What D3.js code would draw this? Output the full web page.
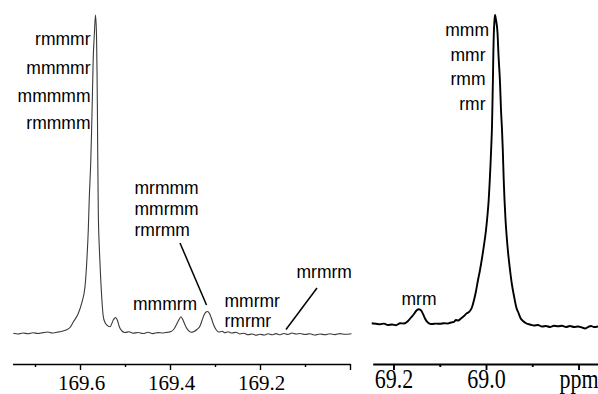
<!DOCTYPE html>
<html>
<head>
<meta charset="utf-8">
<script src="https://cdn.jsdelivr.net/npm/d3@7"></script>
<style>
  html, body { margin: 0; padding: 0; background: #fff; }
  svg { display: block; }
</style>
</head>
<body>
<svg id="chart" width="598" height="394"></svg>
<script>
// ---------- DATA ----------
// Left panel: carbonyl region, chemical shift (ppm) and relative intensity
const leftPpm = [169.7482,169.7378,169.7267,169.7156,169.7044,169.6933,169.6822,169.6711,169.6622,169.6511,
  169.6400,169.6311,169.6222,169.6149,169.6044,169.5962,169.5889,169.5851,169.5816,169.5793,
  169.5762,169.5742,169.5724,169.5707,169.5682,169.5656,169.5633,169.5622,169.5613,169.5607,
  169.5593,169.5573,169.5556,169.5518,169.5482,169.5444,169.5407,169.5333,169.5260,169.5211,
  169.5167,169.5127,169.5067,169.5000,169.4911,169.4822,169.4711,169.4600,169.4489,169.4378,
  169.4267,169.4156,169.4067,169.3978,169.3911,169.3856,169.3811,169.3756,169.3711,169.3656,
  169.3593,169.3533,169.3467,169.3400,169.3333,169.3289,169.3244,169.3200,169.3167,169.3122,
  169.3078,169.3033,169.2978,169.2911,169.2844,169.2778,169.2711,169.2622,169.2533,169.2444,
  169.2356,169.2267,169.2178,169.2089,169.2000,169.1911,169.1822,169.1733,169.1644,169.1556,
  169.1467,169.1378,169.1289,169.1200,169.1111,169.1000,169.0889,169.0778,169.0667,169.0556,
  169.0444,169.0333,169.0222,169.0111,168.9967];
const leftIntensity = [-0.09,-0.31,0,-0.25,0.06,-0.16,0.13,0.31,0,0.25,
  0.57,0.94,1.73,3.46,5.97,9.43,14.56,22.01,32.39,42.77,
  53.46,63.84,74.84,85.85,93.71,100,93.71,82.70,70.13,57.55,
  37.74,27.67,22.01,11.42,5.13,3.30,2.52,1.98,4.09,4.87,
  3.93,1.98,0.63,0.16,0.38,-0.09,0.16,-0.16,0.22,-0.19,
  0.13,0,0.19,0.47,1.26,2.67,3.93,5.13,4.09,2.20,
  0.79,0.22,0.47,1.10,2.20,3.93,5.66,6.60,6.76,6.13,
  4.56,2.67,1.10,0.31,0.53,0.06,0.38,0,0.22,-0.31,
  -0.06,-0.57,-0.31,-0.69,-0.38,-0.63,-0.25,-0.57,-0.19,-0.53,
  -0.16,-0.47,0,-0.31,-0.16,-0.47,-0.25,-0.63,-0.31,-0.57,
  -0.25,-0.50,-0.19,-0.41,-0.25];

// Right panel: methine region
const rightPpm = [69.2471,69.2378,69.2292,69.2205,69.2119,69.2032,69.1946,69.1859,69.1773,69.1686,
  69.1622,69.1557,69.1503,69.1449,69.1405,69.1362,69.1319,69.1276,69.1222,69.1168,
  69.1081,69.0995,69.0908,69.0822,69.0757,69.0692,69.0649,69.0605,69.0541,69.0476,
  69.0417,69.0368,69.0309,69.0259,69.0216,69.0173,69.0130,69.0086,69.0043,69.0000,
  68.9968,68.9942,68.9924,68.9903,68.9885,68.9870,68.9859,68.9849,68.9840,68.9831,
  68.9816,68.9805,68.9784,68.9751,68.9730,68.9697,68.9676,68.9654,68.9637,68.9617,
  68.9600,68.9578,68.9552,68.9524,68.9481,68.9438,68.9395,68.9341,68.9297,68.9254,
  68.9200,68.9124,68.9049,68.8962,68.8876,68.8789,68.8703,68.8616,68.8530,68.8443,
  68.8357,68.8270,68.8184,68.8097,68.8011,68.7924,68.7859,68.7795,68.7730,68.7665,
  68.7578];
const rightIntensity = [0.55,0.39,0.23,0.45,0,0.16,-0.06,0.55,0.48,1.29,
  2.42,3.55,4.68,5.06,4.68,3.55,2.10,1.06,0.48,0.32,
  0.45,0.39,0.58,0.48,0.81,1.03,1.61,1.45,2.10,2.90,
  3.77,4.19,5.48,8.06,10.97,14.52,17.74,21.61,25.81,30.65,
  35.48,40.32,45.16,51.61,58.06,64.52,72.58,80.65,88.71,94.19,
  98.39,100,98.39,94.19,87.10,78.06,69.35,62.90,56.45,46.77,
  40.32,33.87,28.39,23.55,17.74,12.90,9.35,5.48,3.87,2.26,
  1.29,0.48,0.16,-0.16,0,-0.48,-0.32,-0.65,-0.26,-0.42,
  -0.26,-0.65,-0.32,-0.65,-0.48,-0.81,-1.13,-0.65,-0.32,-0.65,
  -0.48];

// Tick values / labels
const leftMajorTicks = [169.6, 169.4, 169.2, 169.0];
const leftMinorTicks = [169.7, 169.5, 169.3, 169.1];
const leftTickLabels = ["169.6", "169.4", "169.2", ""];
const rightMajorTicks = [69.2, 69.0, 68.8];
const rightMinorTicks = [69.1, 68.9];
const rightTickLabels = ["69.2", "69.0", "ppm"];

// Peak assignment labels
const mainPeakLabels = ["rmmmr", "mmmmr", "mmmmm", "rmmmm"];
const groupLabels = ["mrmmm", "mmrmm", "rmrmm"];
const pairLabels = ["mmrmr", "rmrmr"];
const singleLabels = ["mmmrm", "mrmrm"];
const triadLabels = ["mmm", "mmr", "rmm", "rmr"];
const triadMinorLabel = ["mrm"];

// ---------- DRAWING ----------
const svg = d3.select("#chart");
const labelFont = '"Liberation Sans"';
const axisFont = '"Liberation Serif"';

const xL = d3.scaleLinear().domain([169.75, 169.0]).range([12.5, 350]);
const yL = d3.scaleLinear().domain([0, 100]).range([333, 15]);
const xR = d3.scaleLinear().domain([69.245, 68.757]).range([372.7, 598.4]);
const yR = d3.scaleLinear().domain([0, 100]).range([325, 15]);

const leftData = leftPpm.map((p, i) => [p, leftIntensity[i]]);
const rightData = rightPpm.map((p, i) => [p, rightIntensity[i]]);

svg.append("path")
  .datum(leftData)
  .attr("fill", "none")
  .attr("stroke", "#3a3a3a")
  .attr("stroke-width", 1.1)
  .attr("stroke-linejoin", "round")
  .attr("d", d3.line().x(d => xL(d[0])).y(d => yL(d[1])).curve(d3.curveMonotoneX));

svg.append("path")
  .datum(rightData)
  .attr("fill", "none")
  .attr("stroke", "#000")
  .attr("stroke-width", 1.9)
  .attr("stroke-linejoin", "round")
  .attr("d", d3.line().x(d => xR(d[0])).y(d => yR(d[1])).curve(d3.curveMonotoneX));

// Axes
const axisY = 364;
function drawAxis(scale, major, minor, labels, width, rightStyle) {
  const gMinor = svg.append("g").attr("transform", `translate(0,${axisY})`)
    .call(d3.axisBottom(scale).tickValues(minor).tickSize(3).tickSizeOuter(0).tickFormat(""));
  gMinor.select(".domain").remove();
  gMinor.selectAll("line").attr("stroke", "#000").attr("stroke-width", width);

  const g = svg.append("g").attr("transform", `translate(0,${axisY})`)
    .call(d3.axisBottom(scale).tickValues(major).tickSize(6).tickSizeOuter(0)
      .tickFormat((d, i) => labels[i]));
  g.attr("font-family", null).attr("font-size", null);
  g.select(".domain").attr("stroke", "#000").attr("stroke-width", width);
  g.selectAll("line").attr("stroke", "#000").attr("stroke-width", width);
  const t = g.selectAll("text")
    .attr("fill", "#000")
    .style("font-family", axisFont)
    .attr("dy", null);
  if (rightStyle) {
    t.style("font-size", "22px").attr("y", 24 / 1.2).attr("transform", "scale(1,1.2)");
  } else {
    t.style("font-size", "21px").attr("y", 26).attr("x", 1);
  }
}
drawAxis(xL, leftMajorTicks, leftMinorTicks, leftTickLabels, 1.4, false);
drawAxis(xR, rightMajorTicks, rightMinorTicks, rightTickLabels, 1.9, true);

// Annotations
const ann = svg.append("g")
  .style("font-family", labelFont)
  .style("font-size", "17.5px")
  .attr("fill", "#000");

const mainY = [45, 73.5, 101.5, 129];
ann.selectAll(".mainlab").data(mainPeakLabels).enter().append("text")
  .attr("x", 90.5).attr("y", (d, i) => mainY[i])
  .attr("text-anchor", "end").text(d => d);

const groupY = [194, 215, 235.5];
ann.selectAll(".grouplab").data(groupLabels).enter().append("text")
  .attr("x", 134.5).attr("y", (d, i) => groupY[i]).text(d => d);

const pairY = [307, 327];
ann.selectAll(".pairlab").data(pairLabels).enter().append("text")
  .attr("x", 224.5).attr("y", (d, i) => pairY[i]).text(d => d);

const singlePos = [[133, 310], [296.5, 278]];
ann.selectAll(".singlelab").data(singleLabels).enter().append("text")
  .attr("x", (d, i) => singlePos[i][0]).attr("y", (d, i) => singlePos[i][1]).text(d => d);

const triadX = [489, 485.5, 485.5, 485.5];
const triadY = [36, 61, 85, 109.5];
ann.selectAll(".triadlab").data(triadLabels).enter().append("text")
  .attr("x", (d, i) => triadX[i]).attr("y", (d, i) => triadY[i])
  .attr("text-anchor", "end").text(d => d);

ann.selectAll(".mrmlab").data(triadMinorLabel).enter().append("text")
  .attr("x", 401.5).attr("y", 305).text(d => d);

// Leader lines
const leaders = [[180, 243, 206.5, 305], [317, 288, 286, 329.5]];
svg.selectAll(".leader").data(leaders).enter().append("line")
  .attr("x1", d => d[0]).attr("y1", d => d[1])
  .attr("x2", d => d[2]).attr("y2", d => d[3])
  .attr("stroke", "#000").attr("stroke-width", 1.5);
</script>
</body>
</html>
